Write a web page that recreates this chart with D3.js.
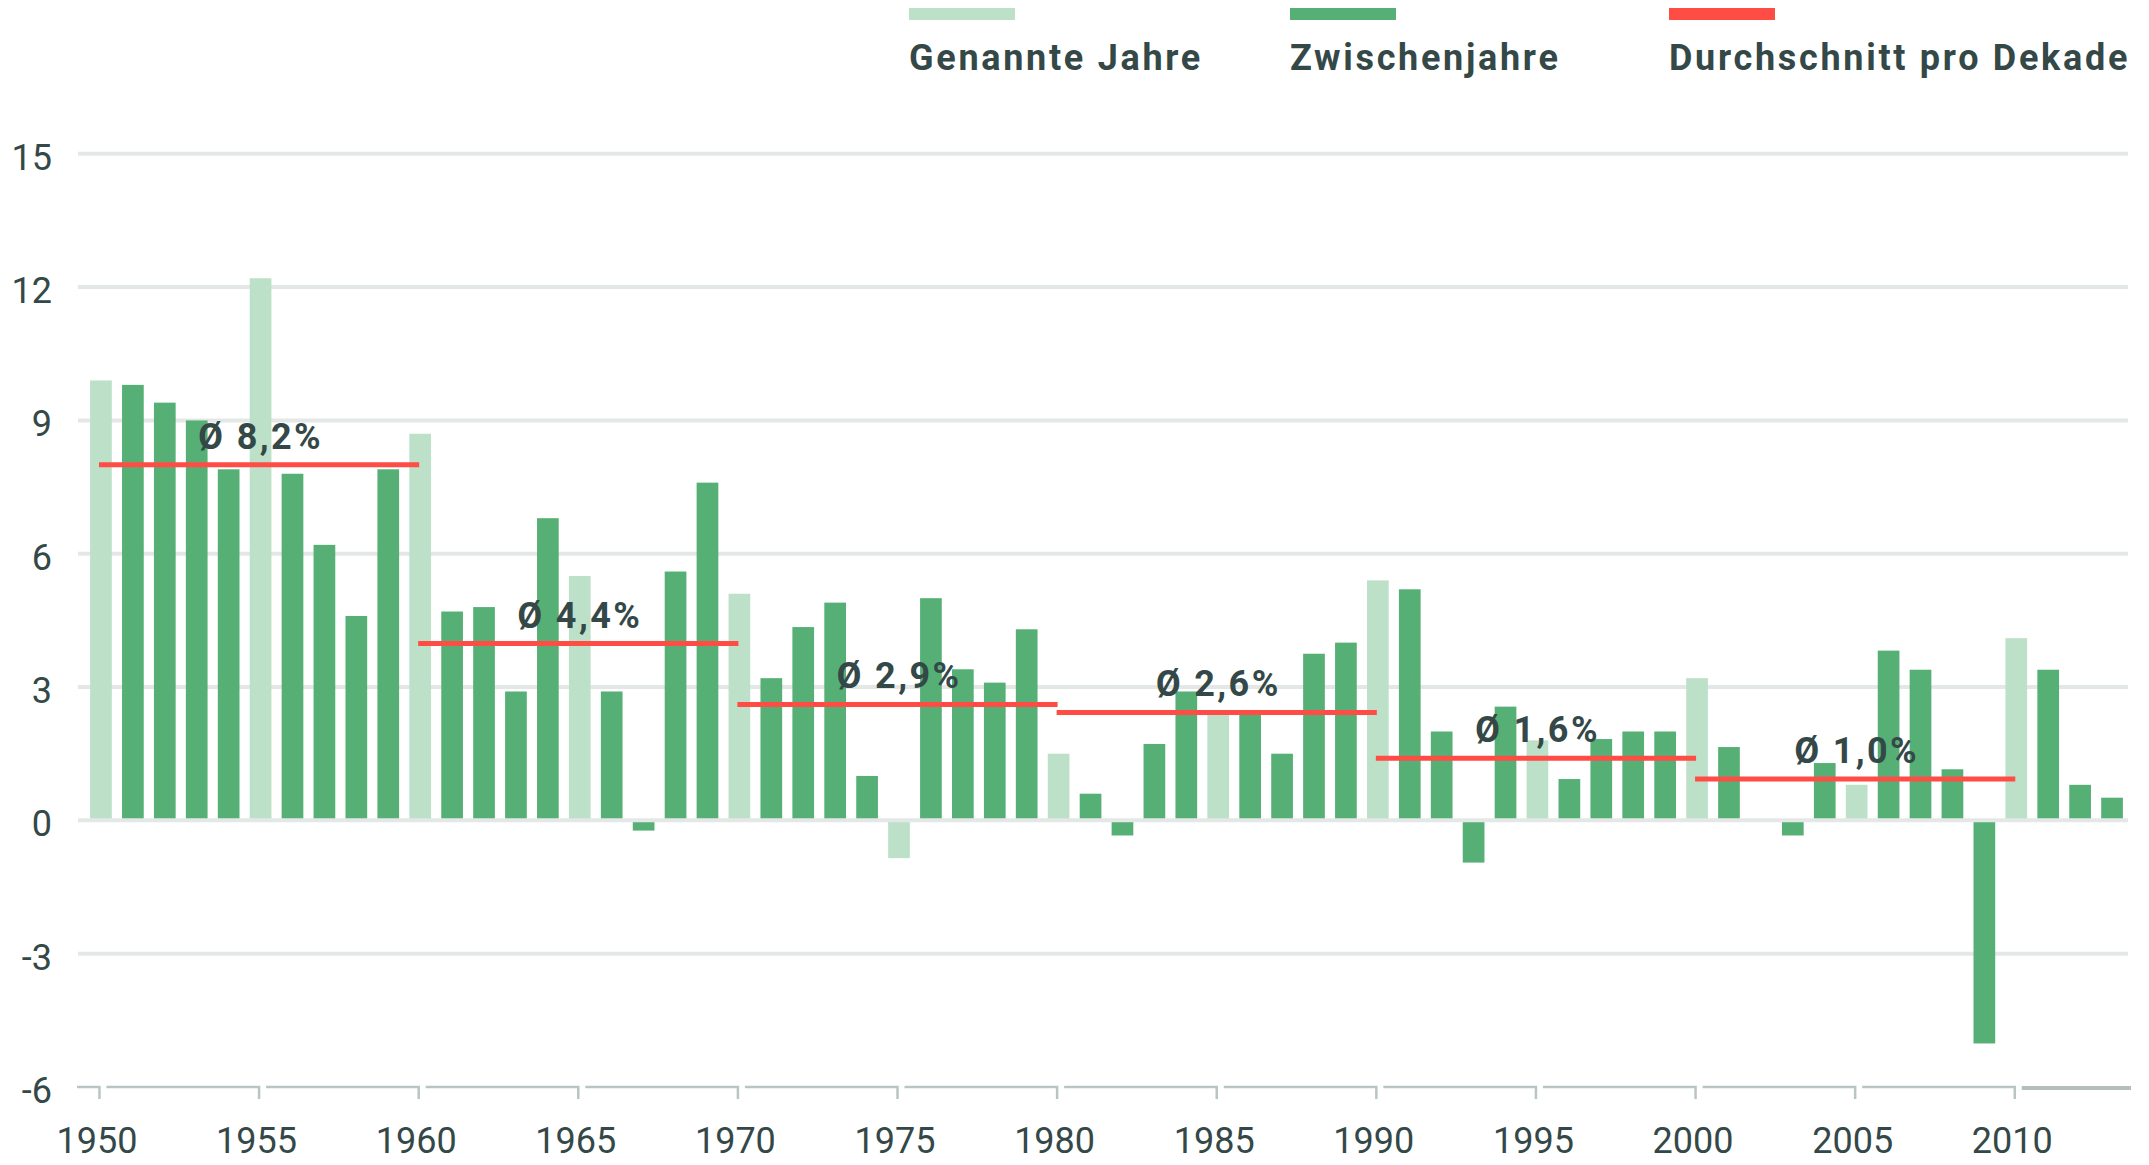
<!DOCTYPE html>
<html>
<head>
<meta charset="utf-8">
<script src="https://cdn.jsdelivr.net/npm/d3@7"></script>
<style>
  body { margin: 0; background: #fff; }
  text { font-family: Roboto, "Noto Sans", sans-serif; }
</style>
</head>
<body>
<div id="chart"></div>
<script>
// data
const years = [1950, 1951, 1952, 1953, 1954, 1955, 1956, 1957, 1958, 1959,
  1960, 1961, 1962, 1963, 1964, 1965, 1966, 1967, 1968, 1969,
  1970, 1971, 1972, 1973, 1974, 1975, 1976, 1977, 1978, 1979,
  1980, 1981, 1982, 1983, 1984, 1985, 1986, 1987, 1988, 1989,
  1990, 1991, 1992, 1993, 1994, 1995, 1996, 1997, 1998, 1999,
  2000, 2001, 2002, 2003, 2004, 2005, 2006, 2007, 2008, 2009,
  2010, 2011, 2012, 2013];
const growth = [9.9, 9.8, 9.4, 9.0, 7.9, 12.2, 7.8, 6.2, 4.6, 7.9,
  8.7, 4.7, 4.8, 2.9, 6.8, 5.5, 2.9, -0.23, 5.6, 7.6,
  5.1, 3.2, 4.35, 4.9, 1.0, -0.85, 5.0, 3.4, 3.1, 4.3,
  1.5, 0.6, -0.34, 1.72, 2.9, 2.4, 2.4, 1.5, 3.75, 4.0,
  5.4, 5.2, 2.0, -0.95, 2.56, 1.8, 0.93, 1.83, 2.0, 2.0,
  3.2, 1.65, 0, -0.34, 1.29, 0.8, 3.82, 3.39, 1.15, -5.02,
  4.1, 3.39, 0.8, 0.51];
const namedYears = [1950, 1955, 1960, 1965, 1970, 1975, 1980, 1985, 1990, 1995, 2000, 2005, 2010];

const decadeStart = [1950, 1960, 1970, 1980, 1990, 2000];
const decadeEnd = [1960, 1970, 1980, 1990, 2000, 2010];
const decadeAvg = [8.0, 3.98, 2.61, 2.43, 1.4, 0.93];
const decadeLabel = ["Ø 8,2%", "Ø 4,4%", "Ø 2,9%", "Ø 2,6%", "Ø 1,6%", "Ø 1,0%"];

const yTicks = [-6, -3, 0, 3, 6, 9, 12, 15];
const xTicks = [1950, 1955, 1960, 1965, 1970, 1975, 1980, 1985, 1990, 1995, 2000, 2005, 2010];

const legendNames = ["Genannte Jahre", "Zwischenjahre", "Durchschnitt pro Dekade"];
const legendColors = ["#bde0c9", "#56b076", "#ff4d45"];

const W = 2149, H = 1165;
const textColor = "#344848";
const lightGreen = "#bde0c9", darkGreen = "#56b076", red = "#ff4d45";
const gridColor = "#e3e8e7", axisColor = "#b9c5c5";

let svg = d3.select("#chart")
  .append("svg")
    .attr("width", W)
    .attr("height", H);

// scales
let x = d3.scaleBand()
  .domain(years)
  .range([85, 2128])
  .paddingInner(0.32)
  .paddingOuter(0.16);
let cx = d => x(d) + x.bandwidth() / 2;

let y = d3.scaleLinear()
  .domain([-6, 15])
  .range([1087, 153.8]);

// gridlines (behind bars)
svg.append("g")
  .selectAll("line")
  .data(yTicks.filter(d => d > -6 && d !== 0))
  .enter()
  .append("line")
    .attr("x1", 78)
    .attr("x2", 2128)
    .attr("y1", d => y(d))
    .attr("y2", d => y(d))
    .style("stroke", gridColor)
    .style("stroke-width", 4);

// y labels
svg.append("g")
  .selectAll("text")
  .data(yTicks)
  .enter()
  .append("text")
    .attr("x", 52)
    .attr("y", d => y(d) + 16)
    .style("text-anchor", "end")
    .style("font-size", "36px")
    .style("fill", textColor)
    .text(d => d);

// bars
svg.append("g")
  .selectAll("rect")
  .data(years)
  .enter()
  .append("rect")
    .attr("x", d => x(d))
    .attr("width", x.bandwidth())
    .attr("y", (d, i) => y(Math.max(0, growth[i])))
    .attr("height", (d, i) => Math.abs(y(growth[i]) - y(0)))
    .attr("fill", d => namedYears.includes(d) ? lightGreen : darkGreen);

// zero line on top of bars
svg.append("line")
  .attr("x1", 78)
  .attr("x2", 2128)
  .attr("y1", y(0))
  .attr("y2", y(0))
  .style("stroke", gridColor)
  .style("stroke-width", 4);

// decade averages
svg.append("g")
  .selectAll("line")
  .data(decadeAvg)
  .enter()
  .append("line")
    .attr("x1", (d, i) => cx(decadeStart[i]) - 2)
    .attr("x2", (d, i) => cx(decadeEnd[i]) - 1)
    .attr("y1", d => y(d))
    .attr("y2", d => y(d))
    .style("stroke", red)
    .style("stroke-width", 5);

svg.append("g")
  .selectAll("text")
  .data(decadeLabel)
  .enter()
  .append("text")
    .attr("x", (d, i) => (cx(decadeStart[i]) + cx(decadeEnd[i])) / 2)
    .attr("y", (d, i) => y(decadeAvg[i]) - 16)
    .style("text-anchor", "middle")
    .style("font-size", "36px")
    .style("font-weight", "bold")
    .style("letter-spacing", "2.4px")
    .style("fill", textColor)
    .text(d => d);

// bottom axis drawn as bracket segments
let axisY = y(-6);
let axisG = svg.append("g");
axisG.selectAll("path")
  .data(xTicks)
  .enter()
  .append("path")
    .attr("d", (d, i) => {
      let x0 = i === 0 ? 77 : cx(xTicks[i - 1]) - 1.5 + 7;
      let x1 = cx(d) - 1.5;
      return `M${x0},${axisY} H${x1} V${axisY + 12}`;
    })
    .style("fill", "none")
    .style("stroke", axisColor)
    .style("stroke-width", 2.5);

axisG.append("line")
  .attr("x1", cx(2010) - 1.5 + 7)
  .attr("x2", 2131)
  .attr("y1", axisY + 1)
  .attr("y2", axisY + 1)
  .style("stroke", "#b3bfbf")
  .style("stroke-width", 4);

axisG.selectAll("text")
  .data(xTicks)
  .enter()
  .append("text")
    .attr("x", d => cx(d) - 4)
    .attr("y", 1153)
    .style("text-anchor", "middle")
    .style("font-size", "36px")
    .style("fill", textColor)
    .text(d => d);

// legend
let legendX = [909, 1290, 1669];
let legend = svg.append("g")
  .selectAll("g")
  .data(legendNames)
  .enter()
  .append("g")
    .attr("transform", (d, i) => "translate(" + legendX[i] + ",0)");

legend.append("rect")
  .attr("x", 0)
  .attr("y", 8)
  .attr("width", 106)
  .attr("height", 12)
  .attr("fill", (d, i) => legendColors[i]);

legend.append("text")
  .attr("x", 0)
  .attr("y", 70)
  .style("font-size", "36px")
  .style("font-weight", "bold")
  .style("letter-spacing", "2.7px")
  .style("fill", textColor)
  .text(d => d);
</script>
</body>
</html>
